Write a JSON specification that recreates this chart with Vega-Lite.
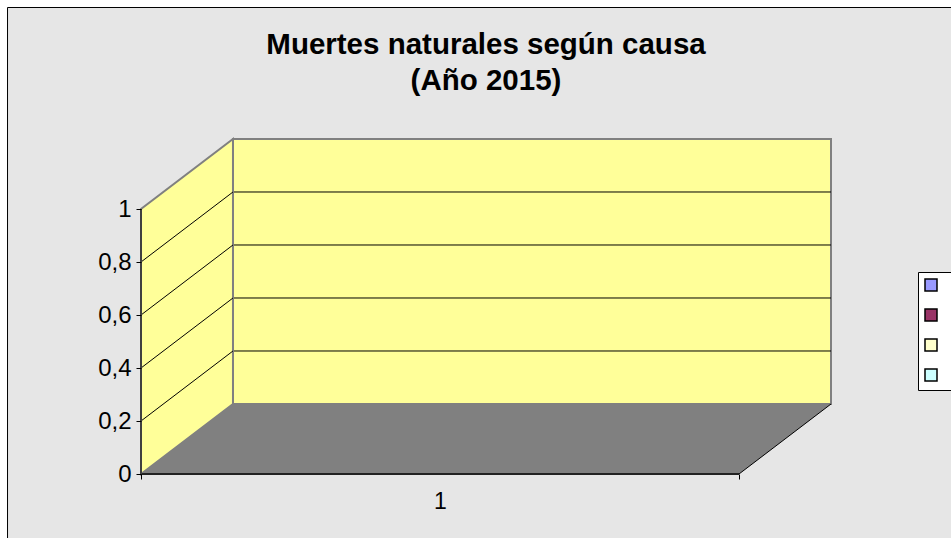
{
  "$schema": "https://vega.github.io/schema/vega-lite/v6.json",
  "autosize": {"type": "none"},
  "width": 690,
  "height": 335,
  "padding": {"left": 141, "top": 139, "right": 120, "bottom": 64},
  "background": "white",
  "config": {"view": {"stroke": null}, "font": "Liberation Sans"},
  "title": {
    "text": ["Muertes naturales según causa", "(Año 2015)"],
    "fontSize": 29.5,
    "fontWeight": "bold",
    "font": "Liberation Sans",
    "color": "black",
    "anchor": "middle",
    "lineHeight": 36,
    "offset": -89,
    "zindex": 2
  },
  "datasets": {
    "series": [
      {"serie": "Serie1", "valor": null},
      {"serie": "Serie2", "valor": null},
      {"serie": "Serie3", "valor": null},
      {"serie": "Serie4", "valor": null}
    ],
    "frame": [{"x": -0.2232, "x2": 1.3696, "y": -0.268, "y2": 1.7604}],
    "backwall": [{"x": 0.1538, "x2": 1.1538, "y": 0.2642, "y2": 1.2642}],
    "backgrid": [{"y": 0.4642}, {"y": 0.6642}, {"y": 0.8642}, {"y": 1.0642}],
    "sidewall": [{"x": 0, "y": 0, "y2": 1}, {"x": 0.1538, "y": 0.2642, "y2": 1.2642}],
    "sidegrid": [{"v": 0.2, "vb": 0.4642}, {"v": 0.4, "vb": 0.6642}, {"v": 0.6, "vb": 0.8642}, {"v": 0.8, "vb": 1.0642}],
    "floor": [{"y": 0, "x": 0, "x2": 1}, {"y": 0.2642, "x": 0.1538, "x2": 1.1538}]
  },
  "resolve": {"scale": {"x": "shared", "y": "shared"}},
  "layer": [
    {
      "data": {"name": "frame"},
      "mark": {"type": "rect", "fill": "#e6e6e6", "stroke": "black", "strokeWidth": 1, "clip": false},
      "encoding": {
        "x": {
          "field": "x",
          "type": "quantitative",
          "scale": {"domain": [0, 1.1538], "nice": false, "zero": false},
          "axis": {
            "values": [0, 0.5, 1],
            "title": null,
            "domain": false,
            "grid": false,
            "ticks": true,
            "tickSize": 5,
            "tickColor": "black",
            "tickWidth": 1,
            "tickOpacity": {"condition": {"test": "datum.value == 0.5", "value": 0}, "value": 1},
            "labelExpr": "datum.value == 0.5 ? '1' : ''",
            "labelFontSize": 23,
            "labelColor": "black",
            "labelPadding": 11,
            "labelFont": "Liberation Sans",
            "zindex": 1
          }
        },
        "x2": {"field": "x2"},
        "y": {
          "field": "y",
          "type": "quantitative",
          "scale": {"domain": [0, 1.2642], "nice": false, "zero": false},
          "axis": {
            "values": [0, 0.2, 0.4, 0.6, 0.8, 1],
            "title": null,
            "domain": false,
            "grid": false,
            "tickSize": 5,
            "tickColor": "black",
            "tickWidth": 1,
            "labelExpr": "replace(format(datum.value, '~g'), '.', ',')",
            "labelFontSize": 24,
            "labelColor": "black",
            "labelPadding": 5,
            "labelFont": "Liberation Sans",
            "zindex": 1
          }
        },
        "y2": {"field": "y2"}
      }
    },
    {
      "data": {"name": "backwall"},
      "mark": {"type": "rect", "fill": "#ffff99", "stroke": "#808080", "strokeWidth": 2},
      "encoding": {
        "x": {"field": "x", "type": "quantitative"},
        "x2": {"field": "x2"},
        "y": {"field": "y", "type": "quantitative"},
        "y2": {"field": "y2"}
      }
    },
    {
      "data": {"name": "backgrid"},
      "mark": {"type": "rule", "color": "black", "strokeWidth": 1},
      "encoding": {
        "x": {"datum": 0.1538, "type": "quantitative"},
        "x2": {"datum": 1.1538},
        "y": {"field": "y", "type": "quantitative"}
      }
    },
    {
      "data": {"name": "sidewall"},
      "mark": {"type": "area", "fill": "#ffff99", "stroke": "#808080", "strokeWidth": 2, "fillOpacity": 1},
      "encoding": {
        "x": {"field": "x", "type": "quantitative"},
        "y": {"field": "y", "type": "quantitative"},
        "y2": {"field": "y2"}
      }
    },
    {
      "data": {"name": "sidegrid"},
      "mark": {"type": "rule", "color": "black", "strokeWidth": 1},
      "encoding": {
        "x": {"datum": 0, "type": "quantitative"},
        "x2": {"datum": 0.1538},
        "y": {"field": "v", "type": "quantitative"},
        "y2": {"field": "vb"}
      }
    },
    {
      "data": {"name": "floor"},
      "mark": {"type": "area", "orient": "horizontal", "fill": "#808080", "fillOpacity": 1},
      "encoding": {
        "y": {"field": "y", "type": "quantitative"},
        "x": {"field": "x", "type": "quantitative"},
        "x2": {"field": "x2"}
      }
    },
    {
      "data": {"values": [{}]},
      "mark": {"type": "rule", "color": "black", "strokeWidth": 1},
      "encoding": {
        "x": {"datum": 1, "type": "quantitative"},
        "x2": {"datum": 1.1538},
        "y": {"datum": 0, "type": "quantitative"},
        "y2": {"datum": 0.2642}
      }
    },
    {
      "data": {"values": [{}]},
      "mark": {"type": "rule", "color": "#222222", "strokeWidth": 2},
      "encoding": {
        "x": {"datum": 0, "type": "quantitative"},
        "x2": {"datum": 1},
        "y": {"datum": 0, "type": "quantitative"}
      }
    },
    {
      "data": {"values": [{}]},
      "mark": {"type": "rule", "color": "#404040", "strokeWidth": 2},
      "encoding": {
        "x": {"datum": 0, "type": "quantitative"},
        "y": {"datum": 0, "type": "quantitative"},
        "y2": {"datum": 1}
      }
    },
    {
      "data": {"name": "series"},
      "mark": {"type": "point", "filled": true, "shape": "square"},
      "encoding": {
        "x": {"datum": 0.5, "type": "quantitative"},
        "y": {"field": "valor", "type": "quantitative"},
        "color": {
          "field": "serie",
          "type": "nominal",
          "scale": {"domain": ["Serie1", "Serie2", "Serie3", "Serie4"], "range": ["#9999ff", "#993366", "#ffffcc", "#ccffff"]},
          "legend": {
            "orient": "none",
            "legendX": 777,
            "legendY": 133,
            "title": null,
            "fillColor": "white",
            "strokeColor": "black",
            "padding": 6,
            "symbolType": "square",
            "symbolSize": 144,
            "symbolStrokeColor": "black",
            "symbolStrokeWidth": 1.5,
            "symbolOpacity": 1,
            "labelExpr": "''",
            "labelFontSize": 1,
            "labelOffset": 30,
            "rowPadding": 12,
            "zindex": 1
          }
        }
      }
    }
  ]
}
